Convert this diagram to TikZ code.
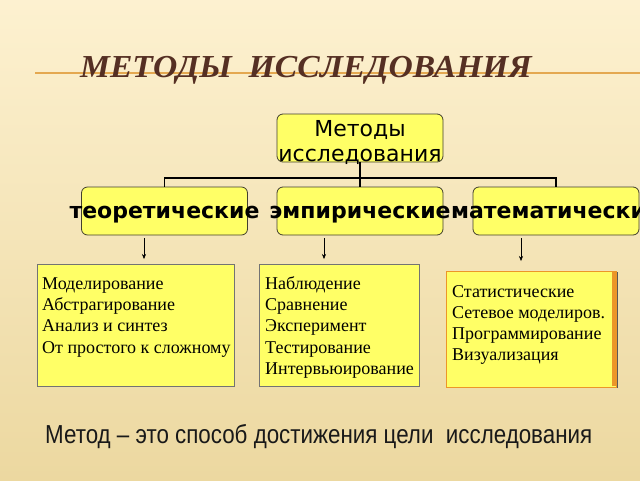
\documentclass[tikz,border=0pt]{standalone}
\usepackage{fontspec}
\setmainfont{Liberation Serif}
\newfontfamily\dejavu{DejaVu Sans}
\newfontfamily\libsans{Liberation Sans}
\usetikzlibrary{arrows.meta}
\definecolor{bgtop}{RGB}{253,241,208}
\definecolor{bgbot}{RGB}{236,216,160}
\definecolor{boxyel}{RGB}{255,255,102}
\definecolor{titlec}{RGB}{85,47,35}
\definecolor{goldline}{RGB}{228,168,80}
\definecolor{orangeb}{RGB}{236,150,40}
\tikzset{
  topbox/.style={draw=black!70!olive, line width=0.8pt, fill=boxyel, rounded corners=6pt, minimum width=166pt, minimum height=48pt, inner sep=0pt},
  listbox/.style={draw=black!55, line width=0.8pt, fill=boxyel, inner sep=0pt, anchor=north west},
  conn/.style={draw=black, line width=1.8pt},
  arr/.style={draw=black, line width=0.5pt, -{Stealth[length=5pt,width=4pt]}},
  listtxt/.style={font=\fontsize{18}{21}\selectfont, anchor=base west, inner sep=0pt},
  rowtxt/.style={font=\dejavu\bfseries\fontsize{22}{22}\selectfont, anchor=base, inner sep=0pt}
}
\begin{document}
\begin{tikzpicture}[x=1pt,y=-1pt]
\useasboundingbox (0,0) rectangle (640,480);
\shade[top color=bgtop, bottom color=bgbot] (0,0) rectangle (640,480);
% title
\draw[goldline, line width=1.2pt] (35,73) -- (640,73);
\node[font=\fontsize{32}{32}\selectfont\bfseries\itshape, text=titlec, anchor=base west, inner sep=0pt] (title) at (80,77) {\scalebox{1.05}[1]{МЕТОДЫ\ \ ИССЛЕДОВАНИЯ}};
% top box
\node[topbox] (root) at (360,138) {};
\node[font=\dejavu\fontsize{22}{22}\selectfont, anchor=base, inner sep=0pt] (r1) at (360,136) {Методы};
\node[font=\dejavu\fontsize{22}{22}\selectfont, anchor=base, inner sep=0pt] (r2) at (360,161) {исследования};
% second row
\node[topbox] (b1) at (164.5,211) {};
\node[topbox] (b2) at (360,211) {};
\node[topbox] (b3) at (556,211) {};
\node[rowtxt] (t1) at (164.5,218) {теоретические};
\node[rowtxt] (t2) at (360,218) {эмпирические};
\node[rowtxt] (t3) at (556,218) {математические};
\coordinate (j) at (360,178);
\draw[conn] (root.south) -- (j);
\draw[conn] (b1.north) |- (j) -| (b3.north);
\draw[conn] (j) -- (b2.north);
% bottom boxes
\node[listbox, minimum width=197pt, minimum height=122pt] (l1) at (37,264) {};
\node[listbox, minimum width=160pt, minimum height=122pt] (l2) at (259,264) {};
\fill[black!65] (447,272) rectangle (618,388);
\node[listbox, draw=orangeb, line width=1.5pt, minimum width=170pt, minimum height=116pt] (l3) at (445.5,270.5) {};
\fill[orangeb] (612,271) rectangle (616,386);
\coordinate (a1s) at (144,238); \coordinate (a1e) at (144,259);
\coordinate (a2s) at (324,238); \coordinate (a2e) at (324,259);
\coordinate (a3s) at (521,238); \coordinate (a3e) at (521,261);
\draw[arr] (a1s) -- (a1e);
\draw[arr] (a2s) -- (a2e);
\draw[arr] (a3s) -- (a3e);
\foreach \t [count=\i] in {Моделирование,Абстрагирование,Анализ и синтез,От простого к сложному}
  \node[listtxt] (x1-\i) at (42,268+21.3*\i) {\t};
\foreach \t [count=\i] in {Наблюдение,Сравнение,Эксперимент,Тестирование,Интервьюирование}
  \node[listtxt] (x2-\i) at (265,268+21.3*\i) {\t};
\foreach \t [count=\i] in {Статистические,Сетевое моделиров.,Программирование,Визуализация}
  \node[listtxt] (x3-\i) at (452,276+21*\i) {\t};
% definition
\node[font=\libsans\fontsize{26}{26}\selectfont, anchor=base west, inner sep=0pt, text=black!90] (def) at (45,443) {\scalebox{0.86}[1]{Метод – это способ достижения цели\ \ исследования}};
\end{tikzpicture}
\end{document}
